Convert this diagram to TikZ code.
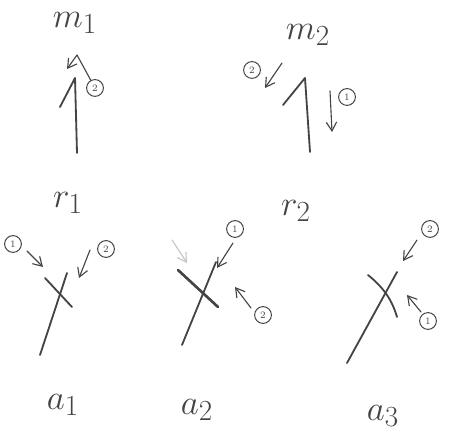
\documentclass[tikz,border=0pt]{standalone}
\usetikzlibrary{arrows.meta,positioning,calc}
\definecolor{skpencil}{HTML}{444444}
\definecolor{skfaint}{HTML}{C4C4C4}
\tikzset{
  sk/.style={x=0.025cm, y=-0.025cm, line cap=round, line join=round},
  skline/.style={draw=skpencil, line width=1.3pt},
  skbold/.style={draw=skpencil, line width=1.9pt},
  skarr/.style={-{Straight Barb[length=2.2mm,width=2.6mm]}, draw=skpencil, line width=0.8pt},
  skghost/.style={-{Straight Barb[length=2.2mm,width=2.6mm]}, draw=skfaint, line width=0.8pt},
  sknum/.style={circle, draw=skpencil, line width=0.7pt, inner sep=0pt,
    minimum size=4.2mm, font=\scriptsize, text=skpencil},
  sklbl/.style={font=\Huge, text=skpencil, inner sep=1pt},
}

\begin{document}
\begin{tikzpicture}[sk]
  \useasboundingbox (0,0) rectangle (451,444);
  \node[sklbl] (m1) at (75,23) {$m_1$};
  \node[sklbl] (m2) at (308,35) {$m_2$};
  \node[sklbl] (r1) at (68,203) {$r_1$};
  \node[sklbl] (r2) at (296,211) {$r_2$};
  \node[sklbl] (a1) at (63,405) {$a_1$};
  \node[sklbl] (a2) at (197,410) {$a_2$};
  \node[sklbl] (a3) at (383,416) {$a_3$};

  \coordinate (m1b) at (77,153);
  \coordinate (m1t) at (75,78);
  \coordinate (m1h) at (60,107);
  \draw[skline] (m1b) -- (m1t) -- (m1h);
  \node[sknum] (m1n) at (95,88) {2};
  \coordinate (m1p) at (77,55);
  \coordinate (m1q) at (67,69);
  \draw[skarr] (m1n) -- (m1p) -- (m1q);

  \coordinate (m2b) at (310,152);
  \coordinate (m2t) at (305,78);
  \coordinate (m2h) at (283,105);
  \draw[skline] (m2b) -- (m2t) -- (m2h);
  \node[sknum] (m2l) at (252,70) {2};
  \coordinate (m2ls) at (282,63);
  \coordinate (m2le) at (265,88);
  \draw[skarr] (m2ls) -- (m2le);
  \node[sknum] (m2r) at (347,97) {1};
  \coordinate (m2rs) at (330,91);
  \coordinate (m2re) at (332,132);
  \draw[skarr] (m2rs) -- (m2re);

  \coordinate (a1b) at (40,355);
  \coordinate (a1t) at (67,273);
  \coordinate (a1x) at (45,278);
  \coordinate (a1y) at (72,307);
  \draw[skline] (a1b) -- (a1t);
  \draw[skline] (a1x) -- (a1y);
  \node[sknum] (a1n1) at (13,244) {1};
  \coordinate (a1s1) at (27,251);
  \coordinate (a1e1) at (43,267);
  \draw[skarr] (a1s1) -- (a1e1);
  \node[sknum] (a1n2) at (106,249) {2};
  \coordinate (a1s2) at (90,250);
  \coordinate (a1e2) at (79,278);
  \draw[skarr] (a1s2) -- (a1e2);

  \coordinate (a2b) at (182,345);
  \coordinate (a2t) at (216,262);
  \coordinate (a2x) at (178,270);
  \coordinate (a2y) at (218,307);
  \draw[skline] (a2b) -- (a2t);
  \draw[skbold] (a2x) -- (a2y);
  \coordinate (a2gs) at (172,240);
  \coordinate (a2ge) at (187,263);
  \draw[skghost] (a2gs) -- (a2ge);
  \node[sknum] (a2n1) at (235,229) {1};
  \coordinate (a2s1) at (233,243);
  \coordinate (a2e1) at (217,268);
  \draw[skarr] (a2s1) -- (a2e1);
  \node[sknum] (a2n2) at (263,315) {2};
  \coordinate (a2s2) at (251,308);
  \coordinate (a2e2) at (235,287);
  \draw[skarr] (a2s2) -- (a2e2);

  \coordinate (a3b) at (347,363);
  \coordinate (a3t) at (397,272);
  \coordinate (a3x) at (368,275);
  \coordinate (a3y) at (397,317);
  \draw[skline] (a3b) -- (a3t);
  \draw[skline] (a3x) .. controls (384,288) and (392,300) .. (a3y);
  \node[sknum] (a3n2) at (430,229) {2};
  \coordinate (a3s2) at (417,240);
  \coordinate (a3e2) at (403,261);
  \draw[skarr] (a3s2) -- (a3e2);
  \node[sknum] (a3n1) at (428,321) {1};
  \coordinate (a3s1) at (421,312);
  \coordinate (a3e1) at (407,295);
  \draw[skarr] (a3s1) -- (a3e1);
\end{tikzpicture}
\end{document}
